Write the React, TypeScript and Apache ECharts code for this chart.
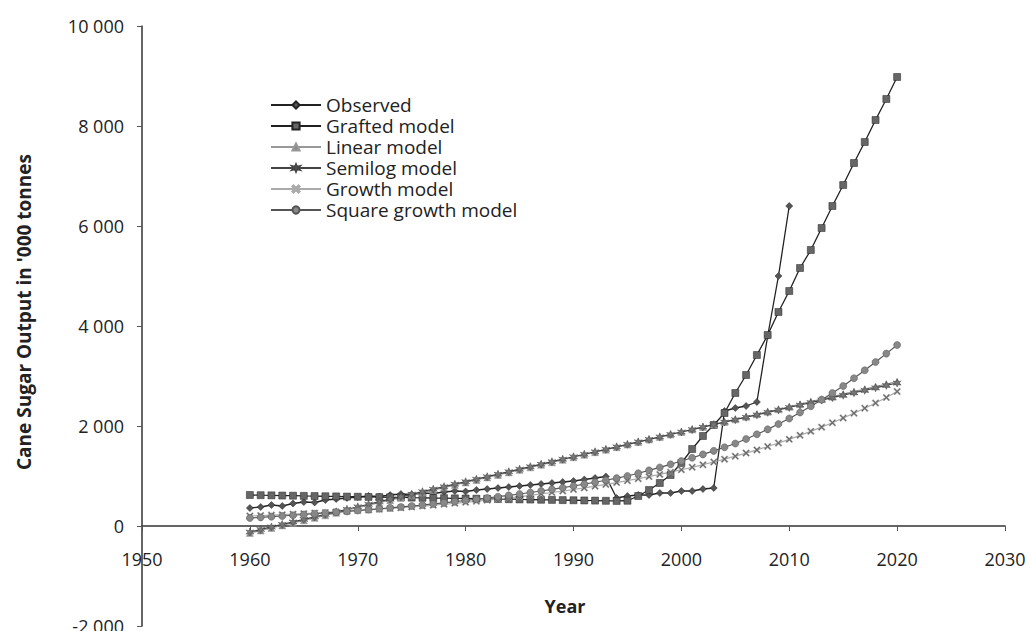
import React, { useEffect, useRef } from "react";
import * as echarts from "echarts";

const modelYears = [
  1960, 1961, 1962, 1963, 1964, 1965, 1966, 1967, 1968, 1969,
  1970, 1971, 1972, 1973, 1974, 1975, 1976, 1977, 1978, 1979,
  1980, 1981, 1982, 1983, 1984, 1985, 1986, 1987, 1988, 1989,
  1990, 1991, 1992, 1993, 1994, 1995, 1996, 1997, 1998, 1999,
  2000, 2001, 2002, 2003, 2004, 2005, 2006, 2007, 2008, 2009,
  2010, 2011, 2012, 2013, 2014, 2015, 2016, 2017, 2018, 2019,
  2020,
];

const observed = [
  360, 380, 420, 400, 450, 480, 470, 520, 540, 560,
  580, 600, 590, 620, 640, 630, 660, 650, 680, 700,
  690, 720, 740, 760, 780, 800, 820, 840, 860, 880,
  900, 930, 960, 990, 560, 600, 620, 620, 660, 660,
  700, 700, 740, 760, 2300, 2360, 2400, 2480, 3800, 5000,
  6400,
];

const grafted = [
  620, 616, 613, 609, 606, 602, 599, 595, 592, 588,
  585, 581, 578, 574, 571, 567, 564, 560, 557, 553,
  550, 546, 543, 539, 536, 532, 529, 525, 522, 518,
  515, 511, 508, 504, 501, 505, 600, 720, 860, 1020,
  1260, 1540, 1800, 2020, 2260, 2660, 3020, 3420, 3820, 4280,
  4700, 5160, 5520, 5960, 6400, 6820, 7260, 7680, 8120, 8540,
  8980,
];

const linear = [
  -140, -90, -39, 12, 62, 113, 163, 214, 264, 315,
  365, 416, 466, 517, 567, 618, 668, 719, 769, 820,
  870, 921, 971, 1022, 1072, 1123, 1173, 1224, 1274, 1325,
  1375, 1426, 1476, 1527, 1577, 1628, 1678, 1729, 1779, 1830,
  1880, 1931, 1981, 2032, 2082, 2133, 2183, 2234, 2284, 2335,
  2385, 2436, 2486, 2537, 2587, 2638, 2688, 2739, 2789, 2840,
  2890,
];

const semilog = [
  -120, -69, -19, 32, 82, 133, 183, 234, 284, 335,
  385, 435, 486, 536, 586, 636, 686, 736, 786, 836,
  886, 936, 986, 1036, 1086, 1136, 1186, 1236, 1286, 1336,
  1385, 1435, 1485, 1534, 1584, 1633, 1683, 1732, 1782, 1831,
  1880, 1929, 1979, 2028, 2077, 2126, 2175, 2224, 2273, 2322,
  2371, 2420, 2469, 2518, 2567, 2616, 2665, 2714, 2763, 2812,
  2860,
];

const growth = [
  200, 209, 218, 227, 237, 248, 259, 270, 282, 294,
  308, 321, 335, 350, 366, 382, 399, 416, 435, 454,
  474, 495, 517, 539, 563, 588, 614, 641, 670, 699,
  730, 762, 796, 831, 868, 906, 946, 988, 1032, 1077,
  1125, 1174, 1226, 1280, 1337, 1396, 1458, 1522, 1589, 1659,
  1733, 1813, 1893, 1977, 2065, 2160, 2256, 2356, 2460, 2570,
  2690,
];

const squareGrowth = [
  160, 173, 186, 200, 215, 230, 245, 261, 277, 293,
  310, 327, 345, 363, 381, 400, 420, 441, 463, 486,
  510, 535, 560, 586, 613, 640, 670, 700, 733, 766,
  800, 837, 875, 915, 957, 1000, 1055, 1112, 1171, 1234,
  1300, 1365, 1432, 1502, 1575, 1650, 1740, 1834, 1933, 2039,
  2150, 2270, 2395, 2527, 2660, 2800, 2955, 3115, 3280, 3448,
  3620,
];

const seriesNames = [
  "Observed",
  "Grafted model",
  "Linear model",
  "Semilog model",
  "Growth model",
  "Square growth model",
];

const xTitle = "Year";
const yTitle = "Cane Sugar Output in '000 tonnes";

const STAR =
  "path://M5,0L6.2,3.3L9.5,2.5L7.2,5L9.5,7.5L6.2,6.7L5,10L3.8,6.7L0.5,7.5L2.8,5L0.5,2.5L3.8,3.3Z";
const CROSS =
  "path://M0,1.5L1.5,0L5,3.5L8.5,0L10,1.5L6.5,5L10,8.5L8.5,10L5,6.5L1.5,10L0,8.5L3.5,5Z";

function pair(vals: number[]) {
  return vals.map((v, i) => [modelYears[i], v]);
}

function fmt(v: number) {
  const s = String(Math.abs(v)).replace(/\B(?=(\d{3})+(?!\d))/g, " ");
  return (v < 0 ? "-" : "") + s;
}

const FONT = "'Open Sans', 'Noto Sans', sans-serif";

export default function App() {
  const ref = useRef<HTMLDivElement>(null);
  useEffect(() => {
    if (!ref.current) return;
    const chart = echarts.init(ref.current, undefined, { renderer: "svg" });
    const mk = (
      name: string,
      data: number[][],
      symbol: string,
      lineColor: string,
      markColor: string,
      size: number,
      width: number
    ) => ({
      name,
      type: "line",
      data,
      symbol,
      symbolSize: size,
      showSymbol: true,
      lineStyle: { color: lineColor, width },
      itemStyle: { color: markColor, borderColor: lineColor, borderWidth: 0.5 },
      emphasis: { disabled: true },
    });
    chart.setOption({
      animation: false,
      grid: {
        left: 142,
        right: 25,
        top: 26,
        bottom: 5,
        containLabel: false,
        outerBoundsMode: "none",
      },
      xAxis: {
        type: "value",
        min: 1950,
        max: 2030,
        interval: 10,
        offset: -100,
        axisLine: { onZero: false, lineStyle: { color: "#333", width: 1.5 } },
        axisTick: { show: true, inside: false, length: 5, lineStyle: { color: "#555" } },
        axisLabel: {
          margin: 24,
          fontSize: 18,
          color: "#222",
          fontFamily: FONT,
          formatter: (v: number) => String(v),
        },
        splitLine: { show: false },
      },
      yAxis: {
        type: "value",
        min: -2000,
        max: 10000,
        interval: 2000,
        axisLine: { show: true, onZero: false, lineStyle: { color: "#333", width: 1.5 } },
        axisTick: { show: true, length: 5, lineStyle: { color: "#555" } },
        axisLabel: {
          margin: 18,
          fontSize: 18,
          color: "#222",
          fontFamily: FONT,
          formatter: (v: number) => fmt(v),
        },
        splitLine: { show: false },
      },
      legend: {
        orient: "vertical",
        left: 265,
        top: 90,
        itemWidth: 50,
        itemHeight: 9,
        itemGap: 1,
        data: seriesNames,
        textStyle: { fontSize: 19, lineHeight: 20, color: "#222", fontFamily: FONT },
      },
      graphic: [
        {
          type: "text",
          x: 565,
          y: 606,
          style: {
            text: xTitle,
            font: `bold 18px ${FONT}`,
            fill: "#222",
            align: "center",
            verticalAlign: "middle",
            textAlign: "center",
            textVerticalAlign: "middle",
          },
        },
        {
          type: "text",
          x: 24,
          y: 312,
          rotation: Math.PI / 2,
          style: {
            text: yTitle,
            font: `bold 19px ${FONT}`,
            fill: "#222",
            align: "center",
            verticalAlign: "middle",
            textAlign: "center",
            textVerticalAlign: "middle",
          },
        },
      ],
      series: [
        mk(seriesNames[0], observed.map((v, i) => [modelYears[i], v]), "diamond", "#222", "#555", 7, 1.3),
        mk(seriesNames[1], pair(grafted), "rect", "#222", "#666", 7, 1.3),
        mk(seriesNames[2], pair(linear), "triangle", "#999", "#888", 7, 1.2),
        mk(seriesNames[3], pair(semilog), STAR, "#444", "#777", 8, 1.2),
        mk(seriesNames[4], pair(growth), CROSS, "#aaa", "#666", 7, 1.2),
        mk(seriesNames[5], pair(squareGrowth), "circle", "#555", "#888", 7, 1.2),
      ],
    });
    return () => chart.dispose();
  }, []);
  return (
    <div
      ref={ref}
      style={{ position: "absolute", left: 0, top: 0, width: 1030, height: 631, background: "#fff" }}
    />
  );
}
